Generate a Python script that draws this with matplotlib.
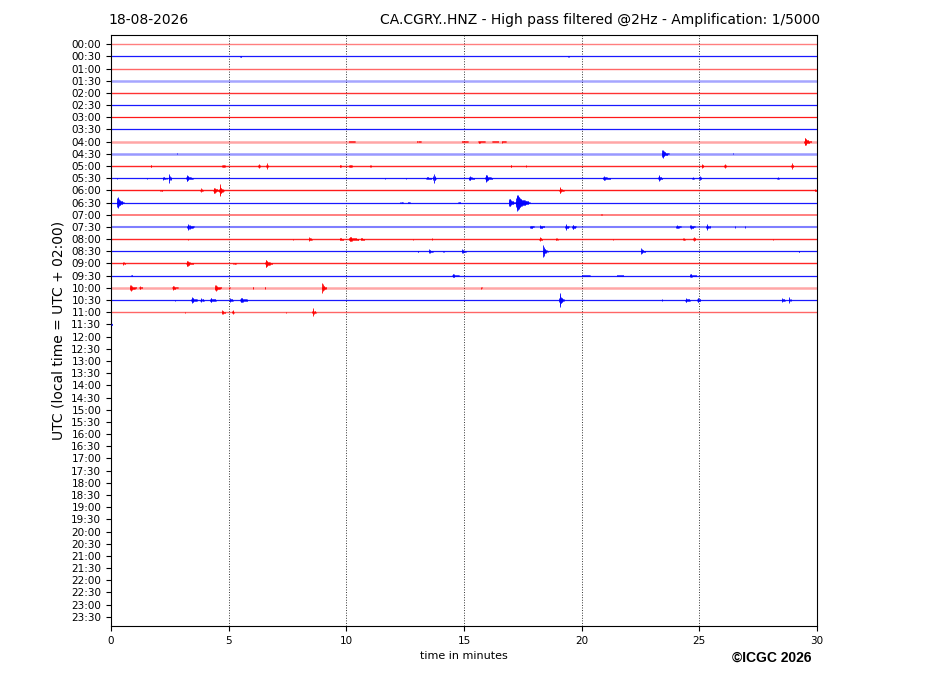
import matplotlib
matplotlib.use("Agg")
import matplotlib.pyplot as plt
import numpy as np

# ---------------- data ----------------
date_text = "18-08-2026"
title_text = "CA.CGRY..HNZ - High pass filtered @2Hz - Amplification: 1/5000"
row_labels = ["%02d:%02d" % (h, m) for h in range(24) for m in (0, 30)]
trace_end = [30.0] * 23 + [0.05]          # minutes of data per row
row_colors = ["red", "blue"]

# baseline appearance per row (noise level)
line_width = [1.0, 0.9, 1.0, 1.8, 1.0, 0.9, 0.9, 0.9, 1.8, 1.8, 1.0, 0.9,
              1.0, 0.9, 1.4, 1.5, 1.0, 0.9, 1.0, 0.9, 1.8, 0.9, 1.0, 0.9]
line_alpha = [0.5, 0.9, 0.6, 0.35, 0.8, 0.9, 0.9, 0.9, 0.35, 0.4, 0.85, 0.9,
              0.9, 0.9, 0.5, 0.5, 0.85, 0.9, 0.85, 0.9, 0.35, 0.9, 0.6, 0.9]

# events: row index, onset minute, half amplitude (row units), duration (min)
event_row = [1, 1,
             8, 8, 8, 8, 8, 8, 8,
             9, 9, 9,
             10, 10, 10, 10, 10, 10, 10, 10, 10, 10, 10, 10, 10, 10, 10, 10, 10, 10, 10,
             11, 11, 11, 11, 11, 11, 11, 11, 11, 11, 11, 11, 11, 11, 11, 11,
             12, 12, 12, 12, 12, 12,
             13, 13, 13, 13, 13, 13,
             14,
             15, 15, 15, 15, 15, 15, 15, 15, 15, 15,
             16, 16, 16, 16, 16, 16, 16, 16, 16, 16, 16, 16, 16, 16,
             17, 17, 17, 17, 17, 17, 17,
             18, 18, 18, 18,
             19, 19, 19, 19, 19,
             20, 20, 20, 20, 20, 20, 20, 20, 20,
             21, 21, 21, 21, 21, 21, 21, 21, 21, 21, 21, 21,
             22, 22, 22, 22, 22,
             23]
event_minute = [5.48, 19.4,
                10.1, 13.0, 14.9, 15.6, 16.2, 16.6, 29.45,
                2.76, 23.4, 26.4,
                1.66, 4.7, 6.25, 6.6, 7.5, 8.6, 9.7, 10.1, 11.0, 16.96, 17.6, 21.8, 23.5, 25.1, 26.05, 27.4, 28.0, 28.9, 29.8,
                0.25, 1.5, 2.2, 2.46, 3.2, 11.6, 12.5, 13.4, 13.7, 15.2, 15.9, 20.9, 23.25, 24.7, 25.0, 28.3,
                2.1, 3.8, 4.35, 4.6, 19.05, 29.9,
                0.25, 12.3, 12.6, 14.75, 16.9, 17.2,
                20.8,
                3.25, 17.8, 18.2, 19.3, 19.6, 24.0, 24.6, 25.3, 26.5, 26.9,
                3.25, 7.7, 8.4, 9.7, 10.1, 10.6, 12.8, 13.6, 18.2, 18.9, 21.3, 24.3, 24.75, 28.1,
                13.0, 13.5, 14.1, 14.9, 18.35, 22.5, 29.2,
                0.5, 3.2, 5.2, 6.55,
                0.85, 14.5, 20.0, 21.5, 24.6,
                0.8, 1.2, 2.6, 4.4, 5.0, 6.0, 6.5, 8.95, 15.7,
                2.7, 3.4, 3.8, 4.2, 5.05, 5.5, 19.05, 23.4, 24.4, 24.9, 28.5, 28.8,
                3.1, 4.7, 5.15, 7.4, 8.55,
                0.0]
event_amp = [0.06, 0.05,
             0.08, 0.06, 0.08, 0.10, 0.08, 0.08, 0.33,
             0.06, 0.35, 0.06,
             0.08, 0.10, 0.25, 0.33, 0.06, 0.06, 0.10, 0.12, 0.06, 0.16, 0.12, 0.05, 0.06, 0.25, 0.25, 0.06, 0.06, 0.25, 0.06,
             0.08, 0.08, 0.12, 0.58, 0.25, 0.08, 0.08, 0.12, 0.58, 0.16, 0.33, 0.16, 0.25, 0.16, 0.25, 0.16,
             0.06, 0.25, 0.25, 0.50, 0.25, 0.12,
             0.50, 0.10, 0.10, 0.12, 0.35, 0.66,
             0.06,
             0.25, 0.12, 0.12, 0.25, 0.20, 0.12, 0.16, 0.25, 0.08, 0.08,
             0.06, 0.06, 0.16, 0.12, 0.20, 0.12, 0.06, 0.08, 0.16, 0.16, 0.06, 0.10, 0.25, 0.06,
             0.06, 0.16, 0.06, 0.16, 0.50, 0.25, 0.06,
             0.25, 0.25, 0.06, 0.33,
             0.06, 0.16, 0.06, 0.06, 0.16,
             0.25, 0.12, 0.16, 0.25, 0.10, 0.10, 0.10, 0.41, 0.10,
             0.06, 0.25, 0.16, 0.16, 0.16, 0.20, 0.58, 0.10, 0.16, 0.20, 0.16, 0.33,
             0.06, 0.16, 0.25, 0.06, 0.41,
             0.12]
event_len = [0.1, 0.1,
             0.3, 0.2, 0.3, 0.3, 0.3, 0.2, 0.3,
             0.1, 0.3, 0.1,
             0.2, 0.4, 0.1, 0.1, 0.1, 0.1, 0.2, 0.3, 0.2, 0.1, 0.1, 0.1, 0.1, 0.1, 0.1, 0.1, 0.1, 0.15, 0.1,
             0.1, 0.1, 0.25, 0.1, 0.3, 0.1, 0.1, 0.3, 0.1, 0.3, 0.3, 0.4, 0.2, 0.1, 0.1, 0.1,
             0.1, 0.1, 0.3, 0.2, 0.2, 0.1,
             0.3, 0.1, 0.1, 0.1, 0.3, 0.6,
             0.1,
             0.3, 0.3, 0.4, 0.2, 0.2, 0.4, 0.3, 0.2, 0.1, 0.1,
             0.1, 0.1, 0.2, 0.3, 0.5, 0.3, 0.1, 0.1, 0.2, 0.1, 0.1, 0.2, 0.1, 0.1,
             0.1, 0.2, 0.1, 0.2, 0.2, 0.2, 0.1,
             0.1, 0.3, 0.1, 0.3,
             0.1, 0.3, 0.5, 0.4, 0.3,
             0.3, 0.2, 0.3, 0.3, 0.1, 0.1, 0.1, 0.2, 0.1,
             0.1, 0.3, 0.2, 0.4, 0.2, 0.4, 0.2, 0.1, 0.3, 0.2, 0.2, 0.1,
             0.1, 0.2, 0.1, 0.1, 0.15,
             0.05]

# ---------------- plot ----------------
fig = plt.figure(figsize=(9.27, 6.96), dpi=100)
ax = fig.add_axes([111 / 927, 1 - 626 / 696, (817 - 111) / 927, (626 - 35) / 696])

n_rows = len(row_labels)
for i in range(len(trace_end)):
    c = row_colors[i % 2]
    ax.plot([0, trace_end[i]], [i, i], color=c, lw=line_width[i],
            alpha=line_alpha[i], solid_capstyle="butt", zorder=2)

# burst envelope: quick onset, peak, decaying coda (shape only)
knots = np.array([0.0, 0.1, 0.35, 1.0])
knot_env = np.array([0.25, 1.0, 0.4, 0.08])
for r, t, a, d in zip(event_row, event_minute, event_amp, event_len):
    c = row_colors[r % 2]
    n = max(3, int(d / 0.02))
    xs = np.linspace(t, t + d, n)
    h = a * np.interp(xs, t + d * knots, knot_env)
    ax.vlines(xs, r - h, r + h, color=c, lw=0.6, zorder=3)

for v in [5, 10, 15, 20, 25]:
    ax.axvline(v, color="black", ls=":", lw=0.7, alpha=0.8, zorder=1)

ax.set_xlim(0, 30)
ax.set_ylim(n_rows - 0.25, -0.75)
ax.set_yticks(range(n_rows))
ax.set_yticklabels(row_labels, fontsize=7.5)
ax.set_xticks([0, 5, 10, 15, 20, 25, 30])
ax.tick_params(axis="x", labelsize=7.5)
ax.tick_params(axis="y", length=3.5)
ax.set_xlabel("time in minutes", fontsize=8)
ax.set_ylabel("UTC (local time = UTC + 02:00)", fontsize=10)

fig.text(108 / 927, 1 - 20 / 696, date_text, ha="left", va="center", fontsize=10)
fig.text(820 / 927, 1 - 20 / 696, title_text, ha="right", va="center", fontsize=10)

fig.text(811 / 927, 1 - 658 / 696, "\u00a9ICGC 2026", ha="right", va="center",
         fontsize=10, fontweight="bold", family="Liberation Sans")

fig.savefig("out.png", dpi=100)
